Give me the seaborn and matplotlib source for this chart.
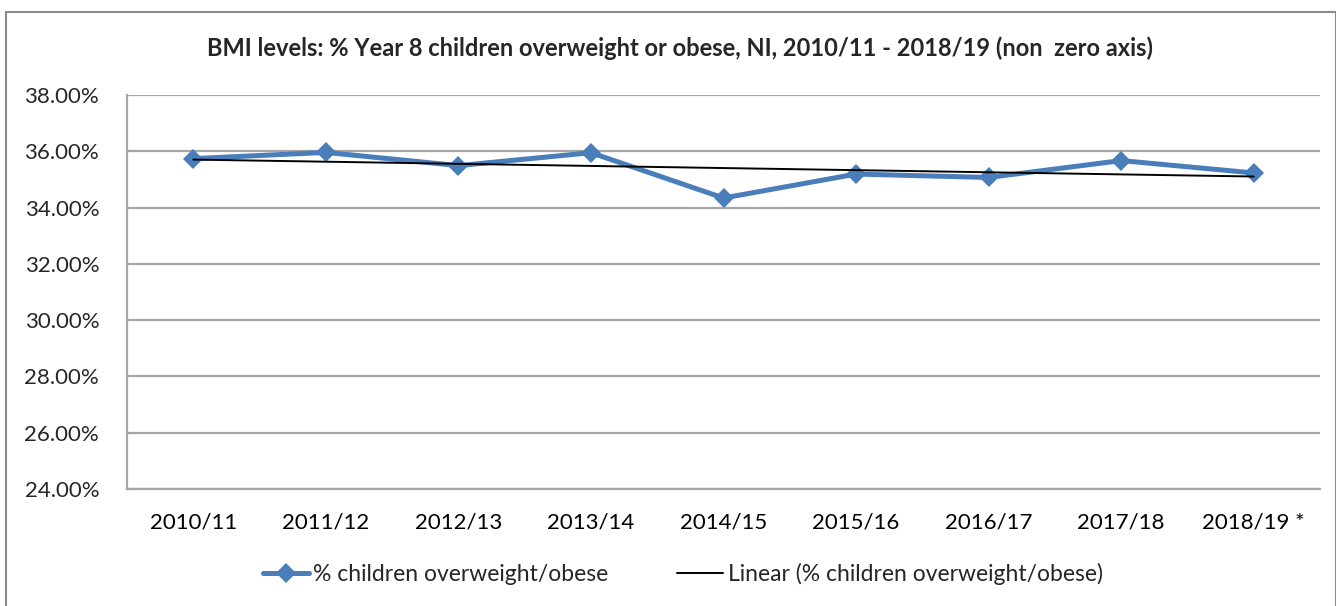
import numpy as np
import pandas as pd
import matplotlib
matplotlib.use("Agg")
import matplotlib.pyplot as plt
import seaborn as sns
from matplotlib.patches import Rectangle
from matplotlib.ticker import FuncFormatter, FixedLocator

years = ["2010/11", "2011/12", "2012/13", "2013/14", "2014/15",
         "2015/16", "2016/17", "2017/18", "2018/19 *"]
pct_overweight = [35.74, 35.96, 35.49, 35.95, 34.34, 35.19, 35.07, 35.67, 35.23]

df = pd.DataFrame({"pos": np.arange(len(years)), "pct": pct_overweight})

# linear trend, as in the original
slope, intercept = np.polyfit(df["pos"], df["pct"], 1)
df["trend"] = intercept + slope * df["pos"]

sns.set_style("white")
plt.rcParams["font.family"] = ["Lato", "DejaVu Sans"]

fig = plt.figure(figsize=(13.36, 6.06), dpi=100)
ax = fig.add_axes([127 / 1336, 1 - 489 / 606, (1320 - 127) / 1336, (489 - 95) / 606])

grid_col = "#a6a6a6"
sns.lineplot(data=df, x="pos", y="pct", ax=ax, color="#4a7ebb", linewidth=3.6,
             marker="D", markersize=10, markeredgewidth=0,
             label="% children overweight/obese", zorder=3)
sns.lineplot(data=df, x="pos", y="trend", ax=ax, color="black", linewidth=1.4,
             label="Linear (% children overweight/obese)", zorder=4)

ax.set_ylim(24, 38)
ax.set_xlim(-0.5, len(years) - 0.5)
ax.set_yticks(np.arange(24, 38.1, 2))
ax.yaxis.set_major_formatter(FuncFormatter(lambda v, p: f"{v:.2f}%"))
ax.set_xticks(np.arange(len(years)))
ax.set_xticklabels(years)
ax.xaxis.set_minor_locator(FixedLocator(np.arange(-0.5, len(years), 1)))
ax.tick_params(axis="x", which="major", length=0, pad=17, labelsize=16, colors="#000000")
ax.tick_params(axis="x", which="minor", length=8, width=1.5, color=grid_col, direction="out")
ax.tick_params(axis="y", length=8, width=1.5, color=grid_col, direction="out",
               pad=12, labelsize=16)

ax.grid(axis="y", color=grid_col, linewidth=1.6)
ax.set_axisbelow(True)
for side in ["top", "right"]:
    ax.spines[side].set_visible(False)
for side in ["left", "bottom"]:
    ax.spines[side].set_color(grid_col)
    ax.spines[side].set_linewidth(1.6)
ax.set_xlabel("")
ax.set_ylabel("")

fig.text(680 / 1336, 1 - 48 / 606,
         "BMI levels: % Year 8 children overweight or obese, NI, 2010/11 - 2018/19 (non  zero axis)",
         ha="center", va="center", fontsize=17, fontweight="bold")

leg = ax.legend(loc="center", bbox_to_anchor=(0.466, -0.215), ncol=2, frameon=False,
                fontsize=16.5, handlelength=2.0, handletextpad=0.2, columnspacing=3.0)

fig.patches.append(Rectangle((6 / 1336, -0.02), 1 - 6 / 1336, 1 - 12 / 606 + 0.02,
                             transform=fig.transFigure, fill=False,
                             edgecolor="#8c8c8c", linewidth=1.5))

fig.savefig("out.png", dpi=100)
